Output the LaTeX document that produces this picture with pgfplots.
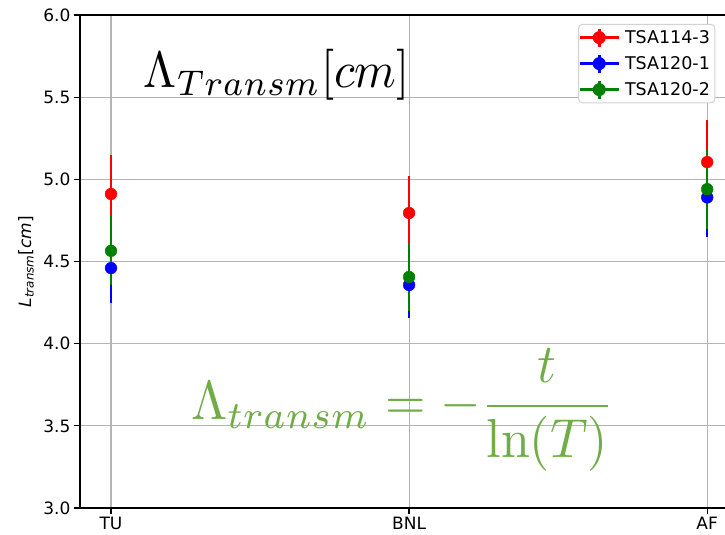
\documentclass[border=0pt]{standalone}
\usepackage[no-math]{fontspec}
\setmainfont{DejaVu Sans}
\usepackage{pgfplots}
\pgfplotsset{compat=1.18}
\usepackage{pgfplotstable}
\definecolor{mgreen}{RGB}{0,128,0}
\definecolor{offgreen}{RGB}{112,173,71}
\definecolor{gridgray}{RGB}{180,180,180}
\definecolor{legframe}{RGB}{210,210,210}

\pgfplotstableread{
x y e
0 4.911 0.237
1 4.795 0.225
2 5.105 0.255
}\tsaA
\pgfplotstableread{
x y e
0 4.460 0.210
1 4.357 0.200
2 4.890 0.240
}\tsaB
\pgfplotstableread{
x y e
0 4.565 0.210
1 4.406 0.206
2 4.940 0.245
}\tsaC

\begin{document}
\begin{tikzpicture}
\begin{axis}[
  scale only axis, width=657pt, height=493pt,
  xmin=-0.104, xmax=2.1, ymin=3, ymax=6,
  xtick={0,1,2}, xticklabels={TU,BNL,AF},
  ytick={3,3.5,...,6},
  xtick pos=bottom, ytick pos=left,
  grid=major, grid style={gridgray, line width=1.2pt},
  axis line style={black, line width=1.3pt},
  tick align=outside, major tick length=6pt,
  tick style={black, line width=1.3pt},
  tick label style={font=\fontsize{17}{20}\selectfont},
  yticklabel style={/pgf/number format/.cd, fixed, fixed zerofill, precision=1, assume math mode=true},
  every axis y label/.style={at={(rel axis cs:-0.0822,0.5)}, rotate=90, anchor=center, font=\fontsize{17}{20}\selectfont},
  ylabel={\textit{L}\textsubscript{\textit{transm}}[\textit{cm}]},
  clip=false,
  legend style={at={(rel axis cs:0.758,0.982)}, anchor=north west,
    draw=legframe, line width=1pt, rounded corners=4pt,
    font=\fontsize{17.5}{20}\selectfont, fill=white,
    inner xsep=0pt, inner ysep=3pt, row sep=5.5pt,
    nodes={inner ysep=2pt, inner xsep=5pt}},
  legend cell align=left,
  legend image code/.code={
    \draw[line width=2.5pt] (0pt,0pt) -- (39pt,0pt);
    \draw[line width=2.5pt] (19.5pt,-9pt) -- (19.5pt,9pt);
    \fill (19.5pt,0pt) circle (6pt);
  },
]
\coordinate (bl) at (rel axis cs:0,0);
% error bars (all drawn beneath markers)
\addplot[forget plot, only marks, mark=none, red,
  error bars/.cd, y dir=both, y explicit, error mark=none,
  error bar style={draw=red, line width=2.5pt}]
  table[x=x, y=y, y error=e] {\tsaA};
\addplot[forget plot, only marks, mark=none, blue,
  error bars/.cd, y dir=both, y explicit, error mark=none,
  error bar style={draw=blue, line width=2.5pt}]
  table[x=x, y=y, y error=e] {\tsaB};
\addplot[forget plot, only marks, mark=none, mgreen,
  error bars/.cd, y dir=both, y explicit, error mark=none,
  error bar style={draw=mgreen, line width=2.5pt}]
  table[x=x, y=y, y error=e] {\tsaC};
% markers
\addplot[only marks, mark=*, mark size=5.9pt, red, mark options={draw=none, fill=red}]
  table[x=x, y=y] {\tsaA};
\addlegendentry{TSA114-3}
\addplot[only marks, mark=*, mark size=5.9pt, blue, mark options={draw=none, fill=blue}]
  table[x=x, y=y] {\tsaB};
\addlegendentry{TSA120-1}
\addplot[only marks, mark=*, mark size=5.9pt, mgreen, mark options={draw=none, fill=mgreen}]
  table[x=x, y=y] {\tsaC};
\addlegendentry{TSA120-2}

\node[anchor=base west, inner sep=0pt, xscale=4.75, yscale=5.1] at (axis cs:0.107,5.556) {$\Lambda_{Transm}[cm]$};
\node[anchor=west, inner sep=0pt, xscale=5.2, yscale=5.5, text=offgreen] at (axis cs:0.265,3.596) {$\displaystyle\Lambda_{transm} = -\frac{t}{\ln(T)}$};
\end{axis}
\pgfresetboundingbox
\path[use as bounding box] (bl) ++(-80pt,-27pt) rectangle ++(725pt,535pt);
\end{tikzpicture}
\end{document}
